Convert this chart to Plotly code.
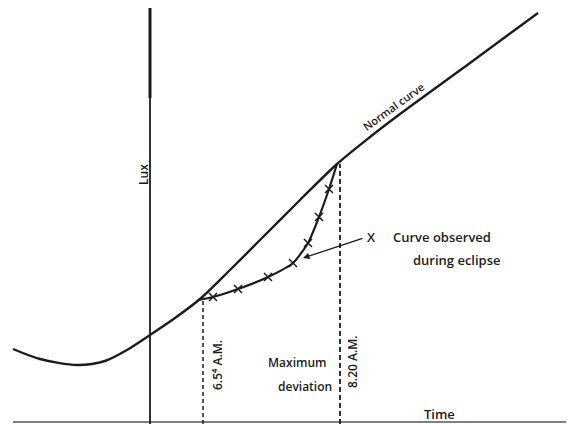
import plotly.graph_objects as go

# Normal illumination curve (time in arbitrary units, lux in arbitrary units)
normal_time = [13, 40, 77, 105, 127, 150, 175, 200, 230, 260, 300, 337, 370, 400, 470, 538]
normal_lux = [75, 65, 59, 63, 74, 89, 106, 125, 154, 184, 224, 260, 287, 310, 361, 411]

# Curve observed during eclipse
observed_time = [198, 213, 238, 268, 293, 308, 319, 329, 337]
observed_lux = [124, 127, 135, 147, 161, 181, 207, 235, 260]

# Reference times
start_time, start_lux = 203, 124   # 6.54 A.M.
end_time, end_lux = 340, 260       # 8.20 A.M.
time_labels = ["6.5⁴ A.M.", "8.20 A.M."]

axis_time = 150
axis_top = 416

ink = "#1c1c1c"
fnt = "Open Sans"

fig = go.Figure()

# axes
fig.add_trace(go.Scatter(x=[13, 574], y=[2, 2], mode="lines",
                         line=dict(color="#555", width=1.6), hoverinfo="skip"))
fig.add_trace(go.Scatter(x=[axis_time, axis_time], y=[0, 326], mode="lines",
                         line=dict(color=ink, width=1.8), hoverinfo="skip"))
fig.add_trace(go.Scatter(x=[axis_time, axis_time], y=[326, axis_top], mode="lines",
                         line=dict(color=ink, width=3), hoverinfo="skip"))

# dashed time markers
fig.add_trace(go.Scatter(x=[start_time, start_time], y=[0, start_lux], mode="lines",
                         line=dict(color=ink, width=1.5, dash="4px,3px"), hoverinfo="skip"))
fig.add_trace(go.Scatter(x=[end_time, end_time], y=[0, end_lux], mode="lines",
                         line=dict(color=ink, width=1.8, dash="5px,3px"), hoverinfo="skip"))

# normal curve
fig.add_trace(go.Scatter(x=normal_time, y=normal_lux, mode="lines",
                         line=dict(color=ink, width=2.4, shape="spline", smoothing=0.8),
                         hoverinfo="skip"))

# observed curve
fig.add_trace(go.Scatter(x=observed_time, y=observed_lux, mode="lines",
                         line=dict(color=ink, width=2.2, shape="spline", smoothing=0.6),
                         hoverinfo="skip"))
fig.add_trace(go.Scatter(x=observed_time[1:-1], y=observed_lux[1:-1], mode="markers",
                         marker=dict(symbol="x-thin", size=8, line=dict(color=ink, width=1.5)),
                         hoverinfo="skip"))

ann = [
    dict(x=143, y=249, text="Lux", textangle=-90, font=dict(size=12)),
    dict(x=393, y=318, text="Normal curve", textangle=-36, font=dict(size=11)),
    dict(x=371, y=187, text="X", font=dict(size=13)),
    dict(x=442, y=187, text="Curve observed", font=dict(size=13)),
    dict(x=457, y=164, text="during eclipse", font=dict(size=13)),
    dict(x=217, y=59, text=time_labels[0], textangle=-90, font=dict(size=12)),
    dict(x=352, y=62, text=time_labels[1], textangle=-90, font=dict(size=12)),
    dict(x=297, y=62, text="Maximum", font=dict(size=12)),
    dict(x=305, y=38, text="deviation", font=dict(size=12)),
    dict(x=439, y=10, text="Time", font=dict(size=13)),
]
for a in ann:
    a["font"]["family"] = fnt
    a["font"]["color"] = ink
    a["font"]["weight"] = 600
    fig.add_annotation(showarrow=False, xref="x", yref="y", **a)

# arrow to observed curve
fig.add_annotation(x=303, y=166, ax=364, ay=186, xref="x", yref="y", axref="x", ayref="y",
                   showarrow=True, arrowhead=2, arrowsize=1, arrowwidth=1.3,
                   arrowcolor=ink, text="", standoff=0)

# page has an 8px body margin, so the figure is 566x416 placed at (8, 8)
fig.update_layout(
    width=566, height=416,
    margin=dict(l=0, r=0, t=0, b=0),
    paper_bgcolor="white", plot_bgcolor="white",
    showlegend=False,
    xaxis=dict(range=[8, 574], visible=False, fixedrange=True),
    yaxis=dict(range=[0, 416], visible=False, fixedrange=True),
)

fig.write_html("out.html")
